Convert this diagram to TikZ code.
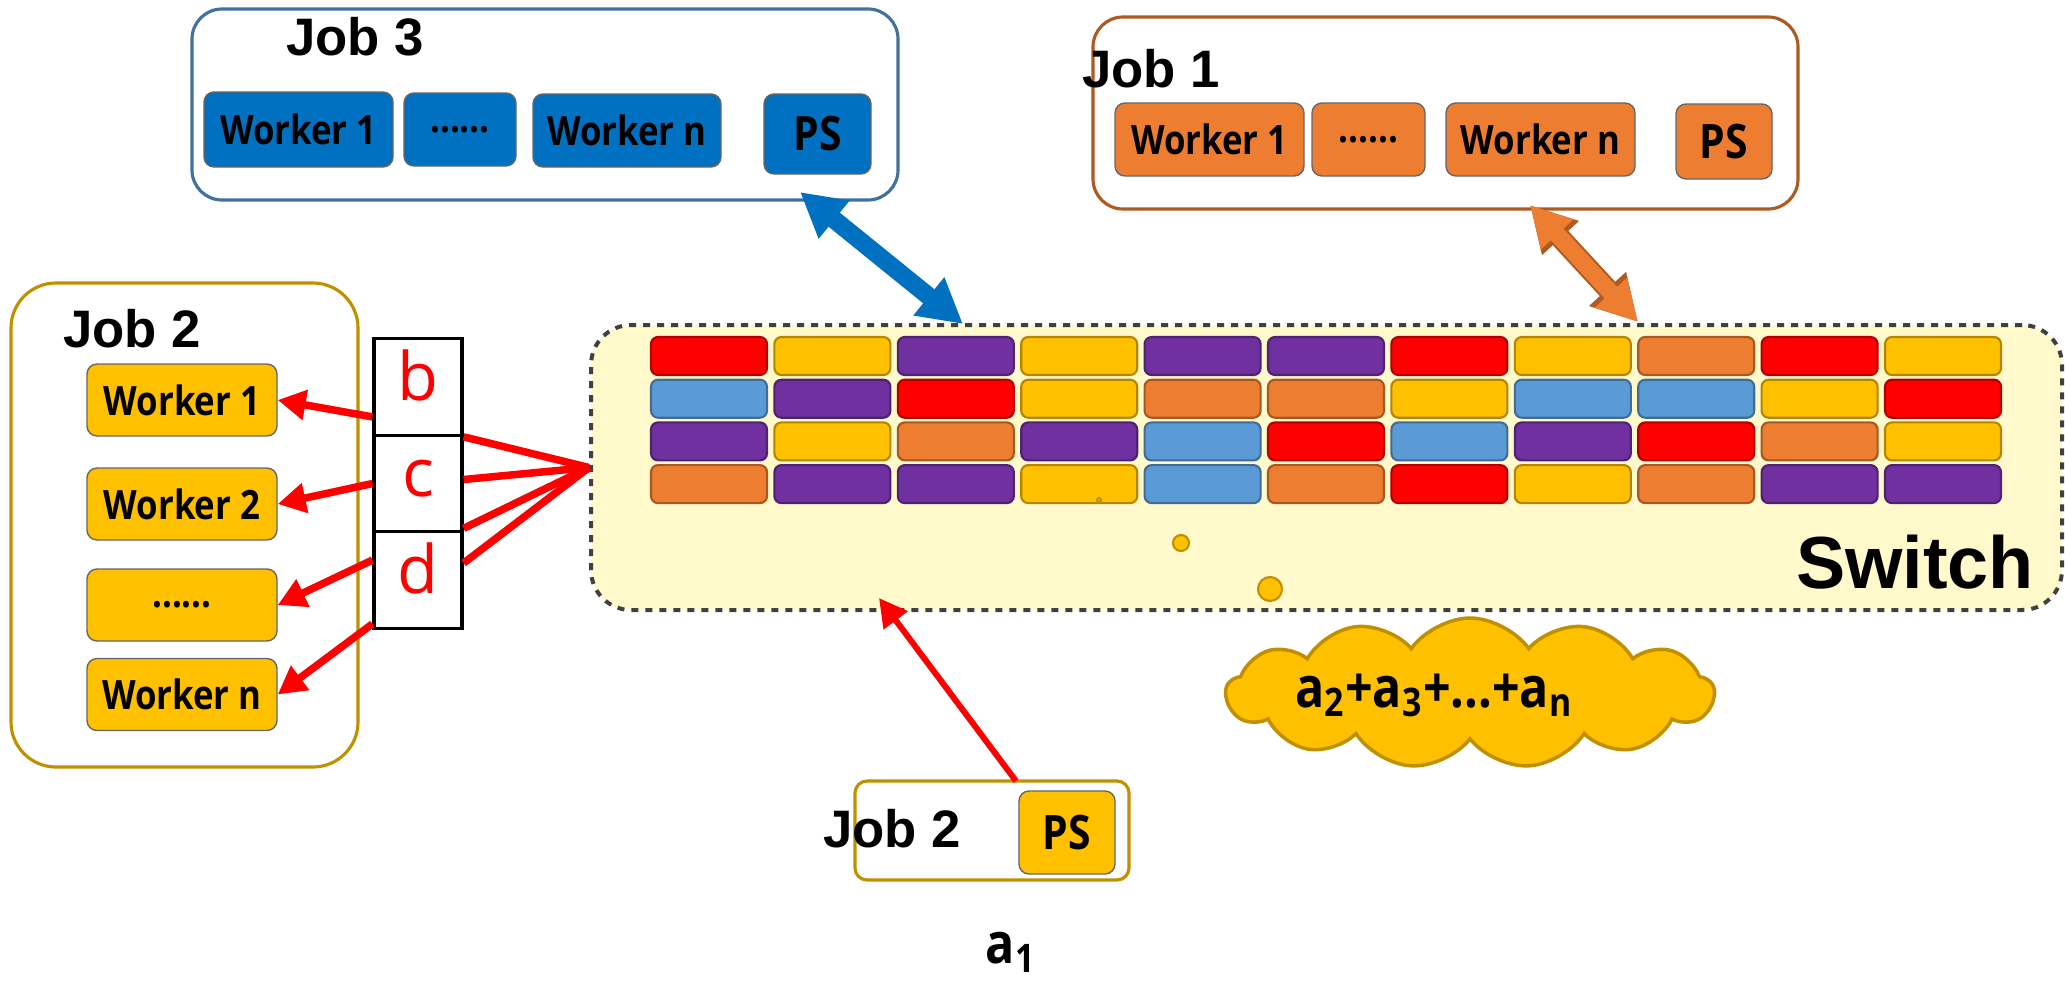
\documentclass[tikz,border=0pt]{standalone}
\usepackage{fontspec}
\newfontfamily\wfont[FakeStretch=0.86]{Open Sans}
\newfontfamily\lfont{Open Sans}
\newfontfamily\jfont{Liberation Sans}
\usepackage{tikz}
\usetikzlibrary{arrows.meta,calc,shapes.symbols}

\definecolor{cR}{HTML}{FF0000}
\definecolor{cY}{HTML}{FFC000}
\definecolor{cP}{HTML}{7030A0}
\definecolor{cO}{HTML}{ED7D31}
\definecolor{cB}{HTML}{5B9BD5}
\definecolor{jblue}{HTML}{0070C0}
\definecolor{jblueline}{HTML}{41719C}
\definecolor{jbrown}{HTML}{AE5A21}
\definecolor{jgold}{HTML}{BF9000}
\definecolor{swfill}{HTML}{FFF9CC}

\begin{document}
\begin{tikzpicture}[x=0.1mm,y=-0.1mm,
  jobbox/.style={draw,line width=0.9pt,rounded corners=3mm},
  worker/.style={draw=black!60,line width=0.4pt,rounded corners=1mm,inner sep=0pt,
    font=\wfont\bfseries\fontsize{11.5}{13}\selectfont},
  pslabel/.style={worker,font=\wfont\bfseries\fontsize{13.5}{15}\selectfont},
  joblabel/.style={font=\jfont\bfseries\fontsize{15}{18}\selectfont},
  cell/.style={minimum width=11.6mm,minimum height=3.8mm,rounded corners=0.7mm,
    line width=0.6pt,inner sep=0pt},
  stackcell/.style={draw,line width=0.9pt,minimum width=8.8mm,minimum height=9.65mm,
    inner sep=0pt,text height=5mm,text depth=2.4mm,text=cR,
    font=\lfont\fontsize{19}{21}\selectfont},
  redline/.style={draw=cR,line width=0.75mm},
  redarrow/.style={redline,-{Triangle[length=2.8mm,width=2.9mm]}},
  bubble/.style={draw=jgold,fill=cY,line width=0.6pt}]

\useasboundingbox (0,0) rectangle (2065,986);

% switch
\node[draw=black!75,line width=0.4mm,dash pattern=on 0.7mm off 0.7mm,fill=swfill,
  rounded corners=4mm,minimum width=147.1mm,minimum height=28.5mm] (switch) at (1326.5,467.5) {};
\foreach \row [count=\r from 0] in {{R,Y,P,Y,P,P,R,Y,O,R,Y},{B,P,R,Y,O,O,Y,B,B,Y,R},
    {P,Y,O,P,B,R,B,P,R,O,Y},{O,P,P,Y,B,O,R,Y,O,P,P}}
  \foreach \c [count=\k from 0] in \row
    \node[cell,fill=c\c,draw=c\c!70!black] (cell-\r-\k) at (709+123.4*\k,356+42.7*\r) {};
\node[font=\jfont\bfseries\fontsize{21}{24}\selectfont] (swlabel) at (1915,562) {Switch};
\draw[bubble] (1099,500) circle (0.2mm);
\draw[bubble] (1181,543) circle (0.8mm);
\draw[bubble] (1270,589) circle (1.2mm);

% job 3
\node[jobbox,draw=jblueline,minimum width=70.6mm,minimum height=19.1mm] (job3) at (545,104.5) {};
\node[joblabel] (job3label) at (355,37) {Job 3};
\node[worker,fill=jblue,minimum width=18.9mm,minimum height=7.5mm] (j3w1) at (298.5,129.5) {Worker 1};
\node[worker,fill=jblue,minimum width=11.2mm,minimum height=7.3mm] (j3dots) at (460,129.5) {......};
\node[worker,fill=jblue,minimum width=18.8mm,minimum height=7.3mm] (j3wn) at (627,130.5) {Worker n};
\node[pslabel,fill=jblue,minimum width=10.7mm,minimum height=8mm] (j3ps) at (817.5,134) {PS};

% job 1
\node[jobbox,draw=jbrown,minimum width=70.5mm,minimum height=19.2mm] (job1) at (1445.5,113) {};
\node[joblabel] (job1label) at (1151,69) {Job 1};
\node[worker,fill=cO,minimum width=18.9mm,minimum height=7.3mm] (j1w1) at (1209.5,139.5) {Worker 1};
\node[worker,fill=cO,minimum width=11.3mm,minimum height=7.3mm] (j1dots) at (1368.5,139.5) {......};
\node[worker,fill=cO,minimum width=18.9mm,minimum height=7.3mm] (j1wn) at (1540.5,139.5) {Worker n};
\node[pslabel,fill=cO,minimum width=9.6mm,minimum height=7.5mm] (j1ps) at (1724,141.5) {PS};

% job 2 workers
\node[jobbox,draw=jgold,rounded corners=4.5mm,minimum width=34.7mm,minimum height=48.4mm] (job2) at (184.5,525) {};
\node[joblabel] (job2label) at (132,329) {Job 2};
\node[worker,fill=cY,minimum width=19mm,minimum height=7.2mm] (j2w1) at (182,400) {Worker 1};
\node[worker,fill=cY,minimum width=19mm,minimum height=7.2mm] (j2w2) at (182,504) {Worker 2};
\node[worker,fill=cY,minimum width=19mm,minimum height=7.2mm] (j2dots) at (182,605) {......};
\node[worker,fill=cY,minimum width=19mm,minimum height=7.2mm] (j2wn) at (182,694.5) {Worker n};

\node[stackcell] (cb) at (418,387) {b};
\node[stackcell] (cc) at (418,483.5) {c};
\node[stackcell] (cd) at (418,580) {d};

\draw[redarrow] ($(cb.south west)!0.2!(cb.north west)$) -- (j2w1.east);
\draw[redarrow] (cc.west) -- (j2w2.east);
\draw[redarrow] ($(cd.north west)!0.3!(cd.south west)$) -- (j2dots.east);
\draw[redarrow] ($(cd.south west)!0.06!(cd.north west)$) -- (j2wn.east);
\draw[redline] (cb.south east) -- (switch.west);
\draw[redline] ($(cc.north east)!0.46!(cc.south east)$) -- (switch.west);
\draw[redline] ($(cc.north east)!0.95!(cc.south east)$) -- (switch.west);
\draw[redline] ($(cd.north east)!0.33!(cd.south east)$) -- (switch.west);

% job 2 ps
\node[jobbox,draw=jgold,rounded corners=1.2mm,minimum width=27.4mm,minimum height=9.9mm] (job2ps) at (992,830.5) {};
\node[pslabel,fill=cY,minimum width=9.6mm,minimum height=8.3mm] (j2ps) at (1067,832.5) {PS};
\node[joblabel] (job2pslabel) at (892,829) {Job 2};
\node[font=\wfont\bfseries\fontsize{16}{18}\selectfont] (aone) at (1011,952) {a\textsubscript{1}};
\coordinate (psout) at (1016,781);
\coordinate (swin) at (879,598);
\draw[redarrow,line width=0.6mm] (psout) -- (swin);

% sum cloud
\node[cloud,cloud puffs=13,cloud puff arc=110,aspect=3,fill=cY,draw=jgold,line width=1pt,
  minimum width=48.8mm,minimum height=15mm,inner sep=0pt] (cloud) at (1470,693) {};
\node[font=\wfont\bfseries\fontsize{16}{18}\selectfont] (cloudtxt) at (1434,695)
  {a\textsubscript{2}+a\textsubscript{3}+...+a\textsubscript{n}};

% links to jobs
\coordinate (j3tip) at (800,192);
\coordinate (sw3tip) at (963,324);
\draw[draw=jblue,line width=1.8mm,{Triangle[length=4.4mm,width=4.6mm]}-{Triangle[length=4.4mm,width=4.6mm]}] (j3tip) -- (sw3tip);
\coordinate (j1tip) at (1530,205);
\coordinate (sw1tip) at (1638,322);
\draw[draw=jbrown,line width=2.1mm,{Triangle[length=4.5mm,width=4.7mm]}-{Triangle[length=4.5mm,width=4.7mm]}] (j1tip) -- (sw1tip);
\draw[draw=cO,line width=1.7mm,{Triangle[length=4mm,width=4.1mm]}-{Triangle[length=4mm,width=4.1mm]}] (j1tip) -- (sw1tip);
\end{tikzpicture}
\end{document}
